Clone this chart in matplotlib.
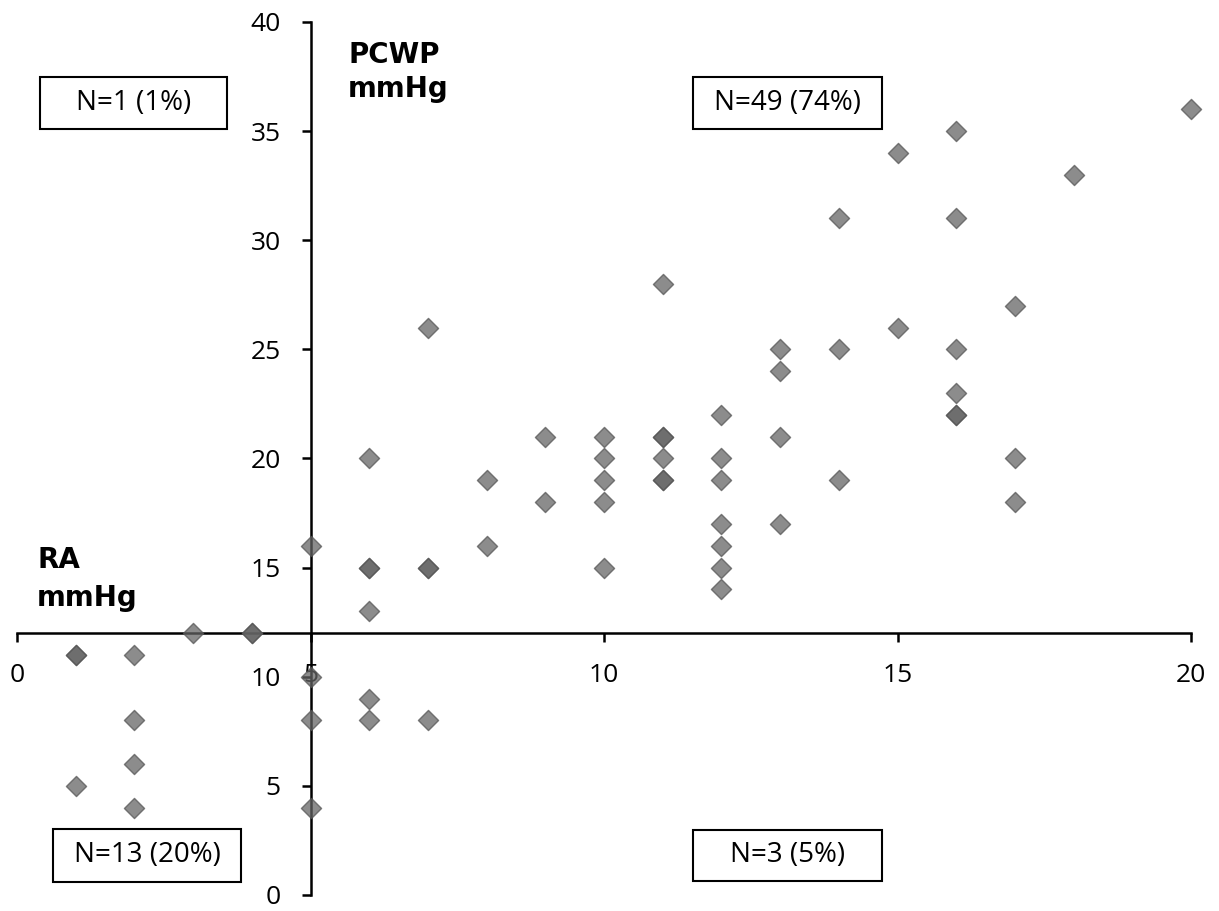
import matplotlib.pyplot as plt
from matplotlib.patches import Rectangle

# RA (x) vs PCWP (y) in mmHg, repeated pairs are listed twice
ra = [1, 1, 1, 2, 2, 2, 2, 3, 4, 4, 5, 5, 5, 5, 6, 6, 6, 6, 6, 6, 7, 7, 7, 7,
      8, 8, 9, 9, 10, 10, 10, 10, 10, 11, 11, 11, 11, 11, 11, 12, 12, 12, 12,
      12, 12, 12, 13, 13, 13, 13, 14, 14, 14, 15, 15, 16, 16, 16, 16, 16, 16,
      17, 17, 17, 18, 20]
pcwp = [11, 11, 5, 11, 8, 6, 4, 12, 12, 12, 16, 10, 8, 4, 20, 15, 15, 13, 9, 8,
        26, 15, 15, 8, 19, 16, 21, 18, 21, 20, 19, 18, 15, 28, 21, 21, 20, 19,
        19, 22, 20, 19, 17, 16, 15, 14, 25, 24, 21, 17, 31, 25, 19, 34, 26, 35,
        31, 25, 23, 22, 22, 27, 20, 18, 33, 36]

quad_labels = ["N=1 (1%)", "N=49 (74%)", "N=13 (20%)", "N=3 (5%)"]

x_ticks = [0, 5, 10, 15, 20]
y_ticks = [0, 5, 10, 15, 20, 25, 30, 35, 40]

W, H = 1219, 911
plt.rcParams['font.family'] = ['Open Sans', 'DejaVu Sans']

fig = plt.figure(figsize=(W / 100, H / 100), dpi=100)
ax = fig.add_axes([17 / W, 16 / H, 1174 / W, 873 / H])

ax.scatter(ra, pcwp, marker='D', s=105, color='#646464', alpha=0.74,
           edgecolors='#555555', linewidths=1.0, clip_on=False, zorder=3)

ax.set_xlim(0, 20)
ax.set_ylim(0, 40)
ax.set_xticks(x_ticks)
ax.set_yticks(y_ticks)

# axes cross at RA=5, PCWP=12
ax.spines['left'].set_position(('data', 5))
ax.spines['bottom'].set_position(('data', 12))
ax.spines['top'].set_visible(False)
ax.spines['right'].set_visible(False)
for sp in ['left', 'bottom']:
    ax.spines[sp].set_linewidth(1.8)
ax.tick_params(direction='out', length=6.5, width=1.8, pad=15, labelsize=19)
ax.patch.set_alpha(0)

# axis titles, one line each (left x, baseline y in pixels)
titles = [("PCWP", 348, 63), ("mmHg", 348, 97),
          ("RA", 37, 568), ("mmHg", 37, 606)]
for txt, px, py in titles:
    fig.text(px / W, 1 - py / H, txt, fontsize=20, fontweight='bold',
             family='DejaVu Sans', va='baseline', ha='left')

# quadrant boxes (left, top, right, bottom in pixels)
boxes = [(40, 77, 227, 129), (693, 77, 882, 129),
         (53, 829, 241, 882), (693, 830, 882, 881)]
for (l, t, r, b), lab in zip(boxes, quad_labels):
    rect = Rectangle((l / W, 1 - b / H), (r - l) / W, (b - t) / H,
                     transform=fig.transFigure, facecolor='white',
                     edgecolor='black', linewidth=1.5)
    fig.add_artist(rect)
    fig.text((l + r) / 2 / W, 1 - (t + b) / 2 / H, lab, fontsize=20,
             ha='center', va='center')

fig.savefig("out.png", dpi=100)
